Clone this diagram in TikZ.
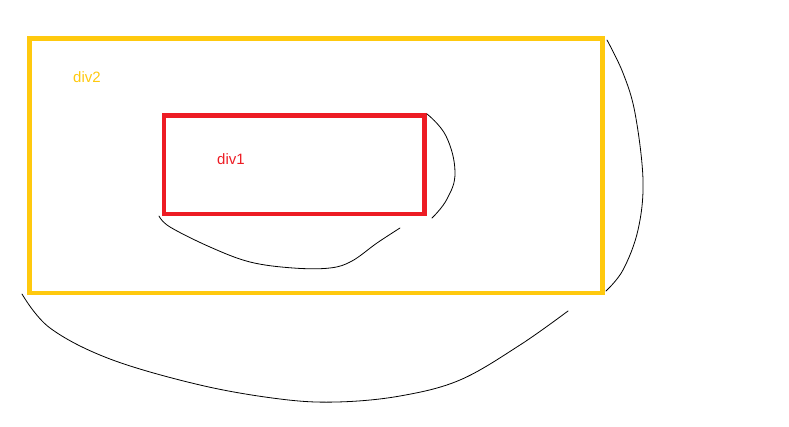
\documentclass[tikz,border=0pt]{standalone}
\usepackage{fontspec}
\setmainfont{Liberation Sans}
\definecolor{paintyellow}{HTML}{FFC90E}
\definecolor{paintred}{HTML}{ED1C24}

\begin{document}
\begin{tikzpicture}[x=1pt, y=-1pt,
    box/.style={draw, inner sep=0pt, line width=4.6pt},
    tag/.style={font=\fontsize{15}{17}\selectfont, inner sep=0pt},
    stroke/.style={line width=0.8pt, line cap=round}]
    \useasboundingbox (0,0) rectangle (789,427);

    \node [box, paintyellow, minimum width=573.2pt, minimum height=254.7pt] (div2) at (315.9,165.7) {};
    \node [box, paintred, minimum width=260.5pt, minimum height=98.5pt] (div1) at (294.2,164.8) {};
    \node [tag, text=paintyellow] (label2) at (87,77) {div2};
    \node [tag, text=paintred] (label1) at (231,159) {div1};

    % loose ends of the hand drawn strokes
    \coordinate (a1) at (427,114);
    \coordinate (a2) at (432,218);
    \coordinate (b1) at (159,216);
    \coordinate (b2) at (400,228);
    \coordinate (c1) at (607,40);
    \coordinate (c2) at (606,291);
    \coordinate (d1) at (22,294);
    \coordinate (d2) at (568,311);

    \draw [stroke] plot [smooth, tension=0.7] coordinates
      {(a1) (446,136) (455,172) (447,199) (a2)};
    \draw [stroke] plot [smooth, tension=0.6] coordinates
      {(b1) (170,227) (210,247) (250,262) (293,268) (330,268) (352,261) (377,243) (b2)};
    \draw [stroke] plot [smooth, tension=0.6] coordinates
      {(c1) (623,73) (635,113) (643,180) (638,230) (623,270) (c2)};
    \draw [stroke] plot [smooth, tension=0.6] coordinates
      {(d1) (50,328) (110,359) (200,385) (280,399) (337,402) (400,396) (460,380) (520,345) (d2)};
\end{tikzpicture}
\end{document}
